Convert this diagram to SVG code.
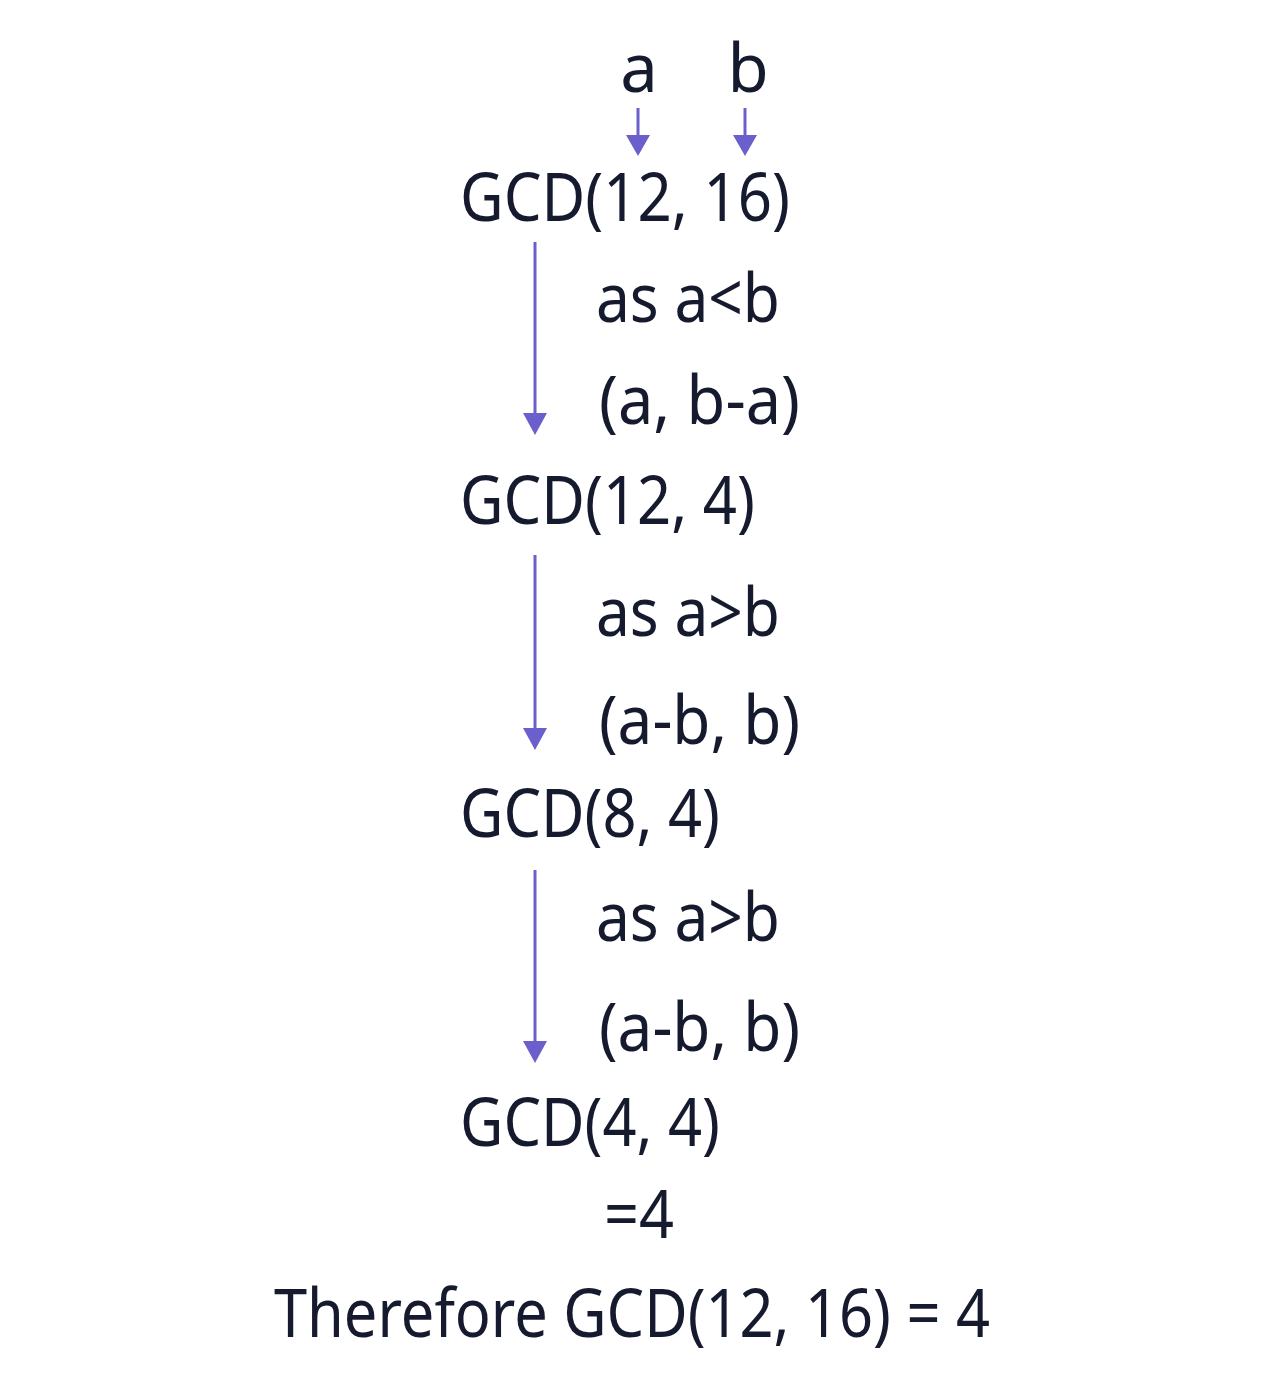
<svg xmlns="http://www.w3.org/2000/svg" width="1266" height="1390" viewBox="0 0 1266 1390">
<style>
.t{font-family:"Noto Sans","Open Sans",sans-serif;font-size:67px;fill:#151a2e}
.c{stroke:#6b5fcc;stroke-width:3;fill:none;marker-end:url(#ah)}
</style>
<defs>
<marker id="ah" viewBox="0 0 24 22" refX="12" refY="22" markerWidth="24" markerHeight="22" markerUnits="userSpaceOnUse" orient="auto">
<path d="M0,0 L24,0 L12,22 Z" fill="#6b5fcc" transform="rotate(-90 12 11) translate(1 -1)"/>
</marker>
</defs>
<rect width="1266" height="1390" fill="#ffffff"/>
<g id="connectors">
<line stroke="#6b5fcc" stroke-width="3" x1="638" y1="108" x2="638" y2="145"/>
<path d="M626,135 L650,135 L638,156 Z" fill="#6b5fcc"/>
<line stroke="#6b5fcc" stroke-width="3" x1="745" y1="108" x2="745" y2="145"/>
<path d="M733,135 L757,135 L745,156 Z" fill="#6b5fcc"/>
<line stroke="#6b5fcc" stroke-width="3" x1="535" y1="242" x2="535" y2="420"/>
<path d="M523,413 L547,413 L535,435 Z" fill="#6b5fcc"/>
<line stroke="#6b5fcc" stroke-width="3" x1="535" y1="555" x2="535" y2="735"/>
<path d="M523,728 L547,728 L535,750 Z" fill="#6b5fcc"/>
<line stroke="#6b5fcc" stroke-width="3" x1="535" y1="870" x2="535" y2="1048"/>
<path d="M523,1041 L547,1041 L535,1063 Z" fill="#6b5fcc"/>
</g>
<g id="label-a"><text class="t" x="639" y="92" text-anchor="middle">a</text></g>
<g id="label-b"><text class="t" x="748" y="92" text-anchor="middle">b</text></g>
<g id="gcd-12-16"><text class="t" x="460" y="221" textLength="330" lengthAdjust="spacingAndGlyphs">GCD(12, 16)</text></g>
<g id="step1-cond"><text class="t" x="596" y="322" textLength="184" lengthAdjust="spacingAndGlyphs">as a&lt;b</text></g>
<g id="step1-op"><text class="t" x="599" y="424" textLength="201" lengthAdjust="spacingAndGlyphs">(a, b-a)</text></g>
<g id="gcd-12-4"><text class="t" x="460" y="524" textLength="295" lengthAdjust="spacingAndGlyphs">GCD(12, 4)</text></g>
<g id="step2-cond"><text class="t" x="596" y="636" textLength="184" lengthAdjust="spacingAndGlyphs">as a&gt;b</text></g>
<g id="step2-op"><text class="t" x="599" y="744" textLength="201" lengthAdjust="spacingAndGlyphs">(a-b, b)</text></g>
<g id="gcd-8-4"><text class="t" x="460" y="837" textLength="260" lengthAdjust="spacingAndGlyphs">GCD(8, 4)</text></g>
<g id="step3-cond"><text class="t" x="596" y="941" textLength="184" lengthAdjust="spacingAndGlyphs">as a&gt;b</text></g>
<g id="step3-op"><text class="t" x="599" y="1051" textLength="201" lengthAdjust="spacingAndGlyphs">(a-b, b)</text></g>
<g id="gcd-4-4"><text class="t" x="460" y="1146" textLength="260" lengthAdjust="spacingAndGlyphs">GCD(4, 4)</text></g>
<g id="result"><text class="t" x="604" y="1238" textLength="70" lengthAdjust="spacingAndGlyphs">=4</text></g>
<g id="conclusion"><text class="t" x="274" y="1337" textLength="716" lengthAdjust="spacingAndGlyphs">Therefore GCD(12, 16) = 4</text></g>
</svg>
